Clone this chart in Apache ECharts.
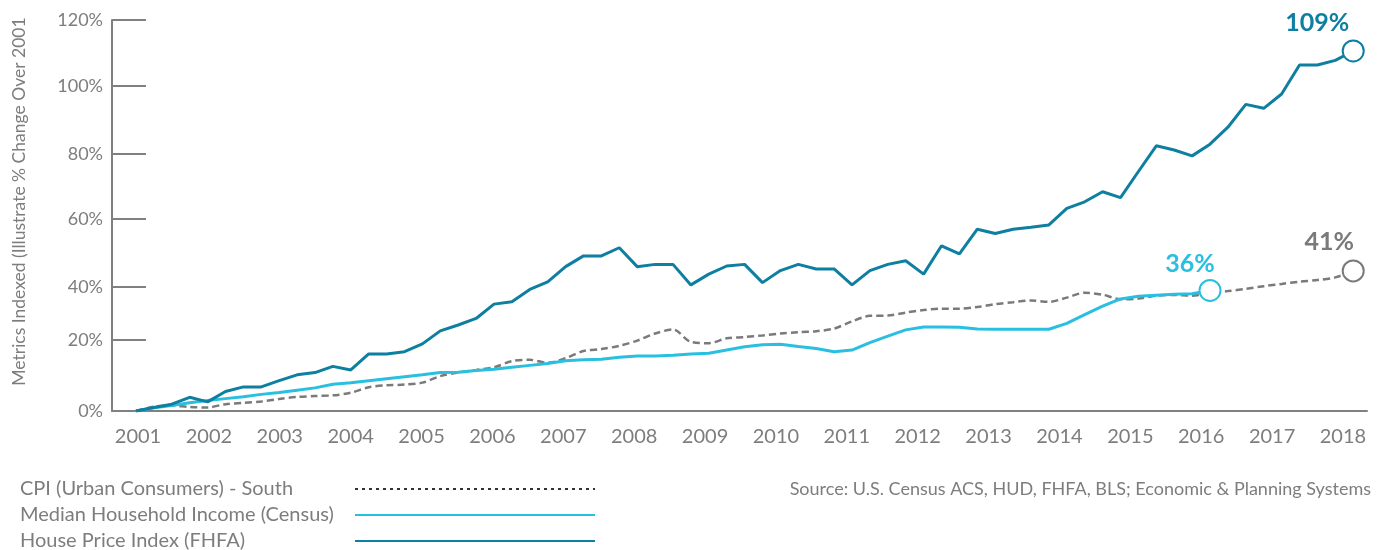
<!DOCTYPE html>
<html>
<head>
<meta charset="utf-8">
<script src="https://cdn.jsdelivr.net/npm/echarts@6/dist/echarts.min.js"></script>
<style>
  html, body { margin: 0; padding: 0; background: #fff; }
  #chart { width: 1384px; height: 550px; }
</style>
</head>
<body>
<div id="chart"></div>
<script>
// quarterly index, 0 = 2001 Q1
const seriesNames = ["CPI (Urban Consumers) - South", "Median Household Income (Census)", "House Price Index (FHFA)"]
const years = [2001, 2002, 2003, 2004, 2005, 2006, 2007, 2008, 2009, 2010, 2011, 2012, 2013, 2014, 2015, 2016, 2017, 2018]

// % change over 2001
const cpi = [
	0, 1.3, 1.7, 1.2, 1.1, 2.1, 2.5, 2.9, 3.7, 4.3, 4.6, 4.8, 5.6, 7.3, 7.9, 8.1, 8.7, 10.7, 11.8, 12.6,
	13.4, 15.3, 15.7, 14.8, 16.2, 18.4, 19.0, 20.0, 21.6, 23.8, 25.0, 21.2, 20.8, 22.3, 22.7, 23.2, 23.8, 24.2, 24.5, 25.3,
	27.5, 29.2, 29.3, 30.2, 31.0, 31.4, 31.4, 31.9, 32.8, 33.4, 33.9, 33.5, 34.8, 36.3, 35.7, 34.3, 34.5, 35.4, 35.6, 35.4,
	36.2, 36.8, 37.5, 38.3, 39.0, 39.7, 40.2, 41.0, 43.0,
]
const income = [
	0, 1.0, 1.7, 2.5, 3.2, 3.8, 4.4, 5.1, 5.7, 6.4, 7.1, 8.2, 8.7, 9.3, 9.9, 10.5, 11.1, 11.8, 11.9, 12.4,
	12.8, 13.4, 14.0, 14.6, 15.4, 15.7, 15.9, 16.5, 16.9, 16.9, 17.1, 17.5, 17.7, 18.7, 19.7, 20.3, 20.5, 19.8, 19.2, 18.2,
	18.7, 21.0, 23.0, 24.9, 25.8, 25.8, 25.7, 25.2, 25.1, 25.1, 25.1, 25.1, 26.9, 29.6, 32.2, 34.4, 35.2, 35.5, 35.8, 36.0,
	37.0,
]
const housePrice = [
	0, 1.1, 2.1, 4.2, 2.8, 6.0, 7.4, 7.4, 9.3, 11.1, 11.8, 13.7, 12.6, 17.5, 17.5, 18.2, 20.6, 24.6, 26.4, 28.4,
	32.8, 33.5, 37.3, 39.6, 44.3, 47.6, 47.6, 50.1, 44.3, 45.0, 45.0, 38.7, 42.0, 44.5, 45.0, 39.4, 43.1, 45.0, 43.6, 43.6,
	38.7, 43.1, 45.0, 46.1, 42.0, 50.7, 48.2, 55.8, 54.5, 55.8, 56.4, 57.1, 62.2, 64.2, 67.3, 65.5, 73.5, 81.4, 80.1, 78.3,
	81.9, 87.1, 94.1, 92.9, 97.3, 106.2, 106.2, 107.6, 110.5,
]
const endLabels = ["41%", "36%", "109%"]

// y ticks sit where the original drew them
const yTickValues = [0, 21.8, 38.1, 58.9, 78.9, 99.7, 120]
const yTickLabels = ["0%", "20%", "40%", "60%", "80%", "100%", "120%"]

const colors = ["#7a7a7a", "#29bfe0", "#0e7fa0"]
const font = "Lato, 'Open Sans', sans-serif"
const grey = "#7d7d7d"

const toPoints = (arr) => arr.map((v, i) => [i, v])

function endMark(arr, color, text, offset) {
	return {
		symbol: "circle",
		symbolSize: 21,
		itemStyle: { color: "#fff", borderColor: color, borderWidth: 2 },
		label: {
			show: true,
			position: "inside",
			formatter: text,
			offset: offset,
			color: color,
			fontFamily: font,
			fontSize: 25,
			fontWeight: "bold",
		},
		data: [{ coord: [arr.length - 1, arr[arr.length - 1]] }],
	}
}

const option = {
	animation: false,
	backgroundColor: "#fff",
	title: {
		text: "Source: U.S. Census ACS, HUD, FHFA, BLS; Economic & Planning Systems",
		right: 13,
		top: 480,
		padding: 0,
		textStyle: { fontFamily: font, fontSize: 18, fontWeight: "normal", color: grey },
	},
	legend: {
		orient: "vertical",
		left: 20,
		top: 479,
		height: 100,
		align: "right",
		itemWidth: 240,
		itemHeight: 12,
		itemGap: 6,
		padding: 0,
		selectedMode: false,
		itemStyle: { opacity: 0 },
		formatter: (name) => "{n|" + name + "}",
		textStyle: {
			rich: {
				n: { width: 330, align: "left", fontFamily: font, fontSize: 20, lineHeight: 22, color: grey },
			},
		},
		data: [
			{ name: seriesNames[0], lineStyle: { color: "#333", type: [3, 4], width: 2 } },
			{ name: seriesNames[1] },
			{ name: seriesNames[2] },
		],
	},
	grid: { left: 112, right: 17, top: 20, bottom: 139 },
	xAxis: [
		{
			type: "value",
			min: -1.34,
			max: 68.77,
			axisLine: { show: true, onZero: false, lineStyle: { color: "#808080", width: 2 } },
			axisTick: { show: false },
			axisLabel: { show: false },
			splitLine: { show: false },
		},
		{
			type: "value",
			position: "bottom",
			min: 2000.633,
			max: 2018.339,
			axisLine: { show: false },
			axisTick: { show: false },
			splitLine: { show: false },
			axisLabel: {
				customValues: years,
				formatter: (v) => String(v),
				margin: 16,
				fontFamily: font,
				fontSize: 20,
				color: grey,
			},
		},
	],
	yAxis: {
		type: "value",
		min: 0,
		max: 120,
		name: "Metrics Indexed (Illustrate % Change Over 2001",
		nameLocation: "middle",
		nameGap: 84,
		nameTextStyle: { fontFamily: font, fontSize: 17.5, color: grey, padding: [0, 0, 0, 28] },
		axisLine: { show: true, onZero: false, lineStyle: { color: "#808080", width: 2 } },
		axisTick: {
			show: true,
			inside: true,
			length: 34,
			customValues: yTickValues,
			lineStyle: { color: "#808080", width: 2 },
		},
		axisLabel: {
			customValues: yTickValues,
			formatter: (v) => yTickLabels[yTickValues.indexOf(v)],
			margin: 9,
			fontFamily: font,
			fontSize: 18,
			color: grey,
		},
		splitLine: { show: false },
	},
	series: [
		{
			name: seriesNames[0],
			type: "line",
			symbol: "none",
			smooth: 0.3,
			data: toPoints(cpi),
			lineStyle: { color: colors[0], width: 2.5, type: [7, 4] },
			itemStyle: { color: colors[0] },
			markPoint: endMark(cpi, colors[0], endLabels[0], [-24, -29]),
		},
		{
			name: seriesNames[1],
			type: "line",
			symbol: "none",
			data: toPoints(income),
			lineStyle: { color: colors[1], width: 3 },
			itemStyle: { color: colors[1] },
			markPoint: endMark(income, colors[1], endLabels[1], [-20, -27]),
		},
		{
			name: seriesNames[2],
			type: "line",
			symbol: "none",
			data: toPoints(housePrice),
			lineStyle: { color: colors[2], width: 3 },
			itemStyle: { color: colors[2] },
			markPoint: endMark(housePrice, colors[2], endLabels[2], [-36, -28]),
		},
	],
}

const chart = echarts.init(document.getElementById("chart"))
chart.setOption(option)
</script>
</body>
</html>
